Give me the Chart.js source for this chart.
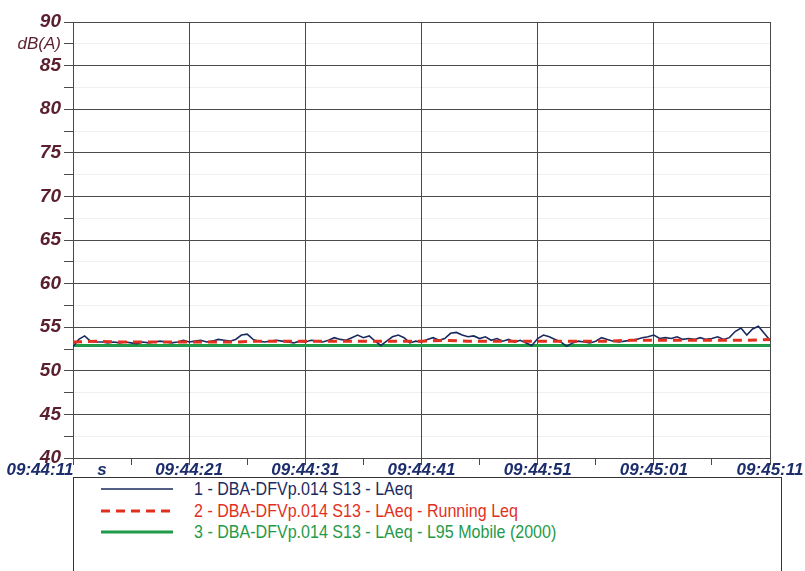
<!DOCTYPE html>
<html>
<head>
<meta charset="utf-8">
<script src="https://cdn.jsdelivr.net/npm/chart.js@4/dist/chart.umd.min.js"></script>
<style>
  html, body { margin: 0; padding: 0; background: #fff; overflow: hidden; }
  #wrap { position: relative; width: 805px; height: 571px; }
  #legend {
    position: absolute; left: 73px; top: 477px; width: 707px; height: 120px;
    border: 1px solid #333; border-bottom: none; background: #fff;
  }
  .row { position: absolute; left: 0; width: 700px; height: 22px; }
  .row svg { position: absolute; left: 27px; top: 0; }
  .row span {
    position: absolute; left: 120px; top: 0; line-height: 22px; white-space: nowrap;
    font-family: "Liberation Sans", Arial, sans-serif; font-size: 19px;
    transform: scaleX(0.845); transform-origin: 0 50%;
  }
</style>
</head>
<body>
<div id="wrap">
  <canvas id="noiseChart"></canvas>
  <div id="legend"></div>
</div>
<script>
// Time axis: samples every 0.5 s, starting at 09:44:11
const SAMPLE_STEP_S = 0.5;
const timeLabels = ['09:44:11', '09:44:21', '09:44:31', '09:44:41', '09:44:51', '09:45:01', '09:45:11'];

// 1 - LAeq (dB(A)), one value every 0.5 s
const laeq = [
  52.8, 53.6, 54.0, 53.4, 53.3, 53.3, 53.2, 53.3, 53.2, 53.3,
  53.2, 53.1, 53.3, 53.2, 53.3, 53.4, 53.3, 53.2, 53.3, 53.5,
  53.3, 53.4, 53.5, 53.3, 53.4, 53.6, 53.5, 53.4, 53.6, 54.1,
  54.2, 53.6, 53.4, 53.3, 53.4, 53.5, 53.4, 53.3, 53.2, 53.4,
  53.3, 53.5, 53.4, 53.3, 53.5, 53.8, 53.6, 53.5, 53.8, 54.1,
  53.8, 54.0, 53.4, 52.9, 53.4, 53.9, 54.1, 53.8, 53.2, 53.4,
  53.3, 53.6, 53.8, 53.5, 53.7, 54.3, 54.4, 54.1, 53.9, 54.0,
  53.7, 53.9, 53.5, 53.7, 53.4, 53.6, 53.3, 53.5, 53.2, 52.9,
  53.7, 54.1, 53.9, 53.6, 53.3, 52.8, 53.2, 53.4, 53.3, 53.2,
  53.4, 53.8, 53.6, 53.4, 53.3, 53.4, 53.5, 53.6, 53.8, 53.9,
  54.1, 53.7, 53.8, 53.7, 53.9, 53.6, 53.7, 53.6, 53.8, 53.6,
  53.7, 53.9, 53.6, 53.8, 54.5, 54.9, 54.1, 54.8, 55.1, 54.3,
  53.5
];

// 2 - Running Leq, one value every 2 s
const runningLeqStep = 2;
const runningLeq = [
  53.3, 53.4, 53.3, 53.3, 53.3, 53.3, 53.3, 53.3, 53.4, 53.4,
  53.4, 53.4, 53.4, 53.4, 53.4, 53.4, 53.5, 53.4, 53.4, 53.4,
  53.4, 53.4, 53.4, 53.4, 53.5, 53.5, 53.5, 53.5, 53.5, 53.5,
  53.6
];

// 3 - L95 Mobile (2000), one value every 10 s
const l95Step = 10;
const l95 = [52.9, 52.9, 52.9, 52.9, 52.9, 52.9, 52.9];

const seriesNames = [
  '1 - DBA-DFVp.014 S13 - LAeq',
  '2 - DBA-DFVp.014 S13 - LAeq - Running Leq',
  '3 - DBA-DFVp.014 S13 - LAeq - L95 Mobile (2000)'
];
const seriesColors = ['#1b2a5e', '#e2301e', '#1f9a48'];

const toPoints = (values, step) => values.map((v, i) => ({ x: i * step, y: v }));

const yLabelColor = '#5a1f2e';
const xLabelColor = '#1c2d6b';
const gridDark = '#4a4a4a';
const fontFamily = '"Liberation Sans", Arial, sans-serif';

const ctx = document.getElementById('noiseChart').getContext('2d');
new Chart(ctx, {
  type: 'line',
  data: {
    datasets: [
      {
        label: seriesNames[0],
        data: toPoints(laeq, SAMPLE_STEP_S),
        borderColor: seriesColors[0],
        borderWidth: 1.6,
        pointRadius: 0,
        order: 1
      },
      {
        label: seriesNames[1],
        data: toPoints(runningLeq, runningLeqStep),
        borderColor: seriesColors[1],
        borderWidth: 3,
        borderDash: [9, 6],
        pointRadius: 0,
        order: 0
      },
      {
        label: seriesNames[2],
        data: toPoints(l95, l95Step),
        borderColor: seriesColors[2],
        borderWidth: 3,
        pointRadius: 0,
        order: 2
      }
    ]
  },
  options: {
    responsive: true,
    maintainAspectRatio: false,
    animation: false,
    layout: { padding: { top: 22, left: 0, right: 0, bottom: 91 } },
    plugins: { legend: { display: false }, tooltip: { enabled: false } },
    scales: {
      x: {
        type: 'linear',
        min: 0,
        max: 60,
        // fixed height, and room on the right so the plot ends at x=770
        afterFit: s => { s.height = 22; s.paddingRight = 35; },
        border: { color: gridDark, width: 1 },
        grid: {
          color: c => (c.tick && c.tick.value % 10 === 0) ? gridDark : 'rgba(0,0,0,0)',
          tickColor: c => (c.tick && c.tick.value % 5 === 0) ? gridDark : 'rgba(0,0,0,0)',
          tickLength: 7
        },
        ticks: {
          stepSize: 2.5,
          autoSkip: false,
          maxRotation: 0,
          padding: -5,
          color: xLabelColor,
          font: { family: fontFamily, size: 17, style: 'italic', weight: 'bold' },
          callback: v => {
            // first label sits left of the axis in the original, pad it with trailing spaces
            if (v === 0) return timeLabels[0] + '\u00a0'.repeat(14);
            if (v % 10 === 0) return timeLabels[v / 10];
            if (v === 2.5) return 's';
            return '';
          }
        }
      },
      y: {
        min: 40,
        max: 90,
        afterFit: s => { s.width = 73; },
        border: { color: gridDark, width: 1 },
        grid: {
          color: c => (c.tick && c.tick.value % 5 === 0) ? gridDark : 'rgba(0,0,0,0.06)',
          tickColor: gridDark,
          tickLength: 9
        },
        ticks: {
          stepSize: 2.5,
          autoSkip: false,
          padding: 3,
          color: yLabelColor,
          font: c => (c.tick && c.tick.value === 87.5)
            ? { family: fontFamily, size: 17, style: 'italic', weight: 'normal' }
            : { family: fontFamily, size: 19, style: 'italic', weight: 'bold' },
          callback: v => {
            if (v % 5 === 0) return String(v);
            if (v === 87.5) return 'dB(A)';
            return '';
          }
        }
      }
    }
  }
});

// Legend box below the chart
const legend = document.getElementById('legend');
const rowTops = [0, 22, 43];
seriesNames.forEach((name, i) => {
  const row = document.createElement('div');
  row.className = 'row';
  row.style.top = rowTops[i] + 'px';
  const dash = i === 1 ? 'stroke-dasharray="9 6"' : '';
  const w = i === 0 ? 1.6 : 3;
  row.innerHTML = `
    <svg width="75" height="22"><line x1="0" y1="11" x2="72" y2="11" stroke="${seriesColors[i]}" stroke-width="${w}" ${dash}/></svg>
    <span style="color:${i === 0 ? '#1b2a5e' : seriesColors[i]}">${name}</span>
  `;
  legend.appendChild(row);
});
</script>
</body>
</html>
